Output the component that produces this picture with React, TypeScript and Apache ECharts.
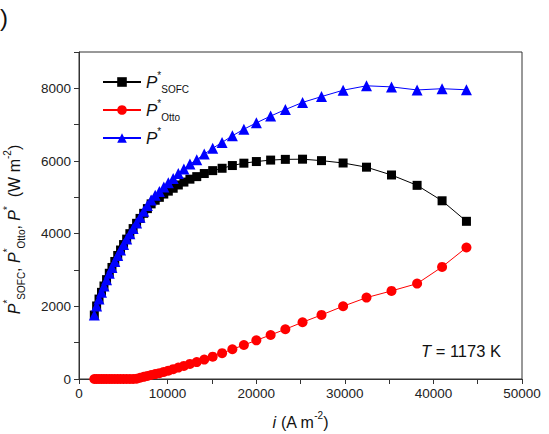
import React, { useEffect, useRef } from "react";
import * as echarts from "echarts";

// current density i (A m^-2)
const iValues = [1730, 1990, 2260, 2540, 2820, 3110, 3420, 3720, 4040, 4370, 4690, 5030, 5380, 5740, 6110, 6500, 6890, 7300, 7720, 8140, 8600, 9070, 9570, 10080, 10630, 11210, 11840, 12520, 13290, 14140, 15090, 16150, 17310, 18610, 20020, 21630, 23290, 25230, 27370, 29810, 32450, 35270, 38160, 40980, 43730];

// P*_SOFC (W m^-2)
const pSofc = [1760, 2010, 2200, 2385, 2560, 2735, 2910, 3070, 3235, 3400, 3550, 3700, 3850, 4000, 4140, 4285, 4420, 4560, 4690, 4820, 4920, 5000, 5090, 5170, 5250, 5340, 5420, 5500, 5570, 5655, 5735, 5800, 5875, 5940, 5985, 6025, 6045, 6050, 6010, 5945, 5830, 5615, 5330, 4905, 4340];

// P*_Otto (W m^-2)
const pOtto = [0, 0, 0, 0, 0, 0, 0, 0, 0, 0, 0, 0, 0, 0, 0, 10, 35, 60, 85, 110, 135, 160, 195, 230, 270, 315, 360, 415, 465, 535, 615, 712, 818, 935, 1065, 1212, 1370, 1562, 1763, 2003, 2240, 2425, 2625, 3085, 3620];

// P* (W m^-2)
const pTotal = [1760, 2010, 2200, 2385, 2560, 2735, 2910, 3070, 3235, 3400, 3550, 3700, 3850, 4000, 4140, 4295, 4455, 4620, 4775, 4930, 5055, 5160, 5285, 5400, 5520, 5655, 5780, 5915, 6035, 6190, 6350, 6512, 6693, 6875, 7050, 7237, 7415, 7612, 7773, 7948, 8070, 8040, 7955, 7990, 7960];

const seriesNames = ["PSOFC", "POtto", "Ptotal"];
const legendLabels: Record<string, string> = {
  PSOFC: "{i|P}{sp|*}{sb|SOFC}",
  POtto: "{i|P}{sp|*}{sb|Otto}",
  Ptotal: "{i|P}{sp|*}",
};

const FONT = "'Liberation Sans', Arial, sans-serif";

function richStyles(main: number, small: number, lh: number) {
  return {
    n: { fontSize: main, fontFamily: FONT, color: "#111", lineHeight: lh },
    i: { fontSize: main, fontFamily: FONT, color: "#111", fontStyle: "italic", lineHeight: lh },
    sp: { fontSize: small, fontFamily: FONT, color: "#111", verticalAlign: "top" },
    sb: { fontSize: small, fontFamily: FONT, color: "#111", verticalAlign: "bottom" },
  };
}

export default function App() {
  const ref = useRef<HTMLDivElement>(null);
  useEffect(() => {
    if (!ref.current) return;
    const chart = echarts.init(ref.current, null, { renderer: "svg" });
    const mk = (ys: number[]) => iValues.map((x, k) => [x, ys[k]]);
    chart.setOption({
      animation: false,
      backgroundColor: "#fff",
      grid: {
        left: 79,
        right: 27,
        top: 52,
        bottom: 55,
        show: true,
        borderColor: "#333",
        borderWidth: 1,
        backgroundColor: "transparent",
        containLabel: false,
        outerBoundsMode: "none",
      },
      legend: {
        orient: "vertical",
        left: 97,
        top: 65,
        itemWidth: 38,
        itemHeight: 12,
        itemGap: 4,
        data: seriesNames,
        formatter: (name: string) => legendLabels[name],
        textStyle: { rich: richStyles(17, 10, 24) },
      },
      xAxis: {
        type: "value",
        min: 0,
        max: 50000,
        interval: 5000,
        name: "{i|i}{n| (A m}{sp|-2}{n|)}",
        nameLocation: "middle",
        nameGap: 31,
        nameTextStyle: { rich: richStyles(16, 10, 24) },
        axisLine: { lineStyle: { color: "#333", width: 1 } },
        axisTick: { inside: false, length: 5, lineStyle: { color: "#333" } },
        axisLabel: {
          fontSize: 13.5,
          fontFamily: FONT,
          color: "#222",
          margin: 7,
          formatter: (v: number) => (v % 10000 === 0 ? String(v) : ""),
        },
        splitLine: { show: false },
      },
      yAxis: {
        type: "value",
        min: 0,
        max: 9000,
        interval: 1000,
        name: "{i|P}{sp|*}{sb|SOFC}{n|, }{i|P}{sp|*}{sb|Otto}{n|, }{i|P}{sp|*}{n|  (W m}{sp|-2}{n|)}",
        nameLocation: "middle",
        nameGap: 53,
        nameRotate: 90,
        nameTextStyle: { rich: richStyles(16, 10, 24), padding: [0, 28, 0, 0] },
        axisLine: { show: true, lineStyle: { color: "#333", width: 1 } },
        axisTick: { show: true, inside: false, length: 5, lineStyle: { color: "#333" } },
        axisLabel: {
          fontSize: 13.5,
          fontFamily: FONT,
          color: "#222",
          margin: 8,
          formatter: (v: number) => (v % 2000 === 0 ? String(v) : ""),
        },
        splitLine: { show: false },
      },
      graphic: [
        {
          type: "text",
          left: 0,
          top: 5,
          style: { text: ")", fontSize: 24, fontFamily: FONT, fill: "#111" },
        },
        {
          type: "text",
          left: 421,
          top: 342,
          style: {
            text: "{i|T}{n| = 1173 K}",
            rich: {
              i: { fontSize: 16.5, fontFamily: FONT, fill: "#111", fontStyle: "italic" },
              n: { fontSize: 16.5, fontFamily: FONT, fill: "#111" },
            },
          },
        },
      ],
      series: [
        {
          name: "PSOFC",
          type: "line",
          data: mk(pSofc),
          symbol: "rect",
          symbolSize: 9,
          color: "#000",
          lineStyle: { color: "#000", width: 1 },
          itemStyle: { color: "#000" },
        },
        {
          name: "POtto",
          type: "line",
          data: mk(pOtto),
          symbol: "circle",
          symbolSize: 10,
          color: "#ff0000",
          lineStyle: { color: "#ff0000", width: 1 },
          itemStyle: { color: "#ff0000" },
        },
        {
          name: "Ptotal",
          type: "line",
          data: mk(pTotal),
          symbol: "triangle",
          symbolSize: 11,
          color: "#0000ff",
          lineStyle: { color: "#0000ff", width: 1 },
          itemStyle: { color: "#0000ff" },
        },
      ],
    });
    return () => chart.dispose();
  }, []);
  return (
    <div
      ref={ref}
      style={{ position: "fixed", left: 0, top: 0, width: 549, height: 434 }}
    />
  );
}
